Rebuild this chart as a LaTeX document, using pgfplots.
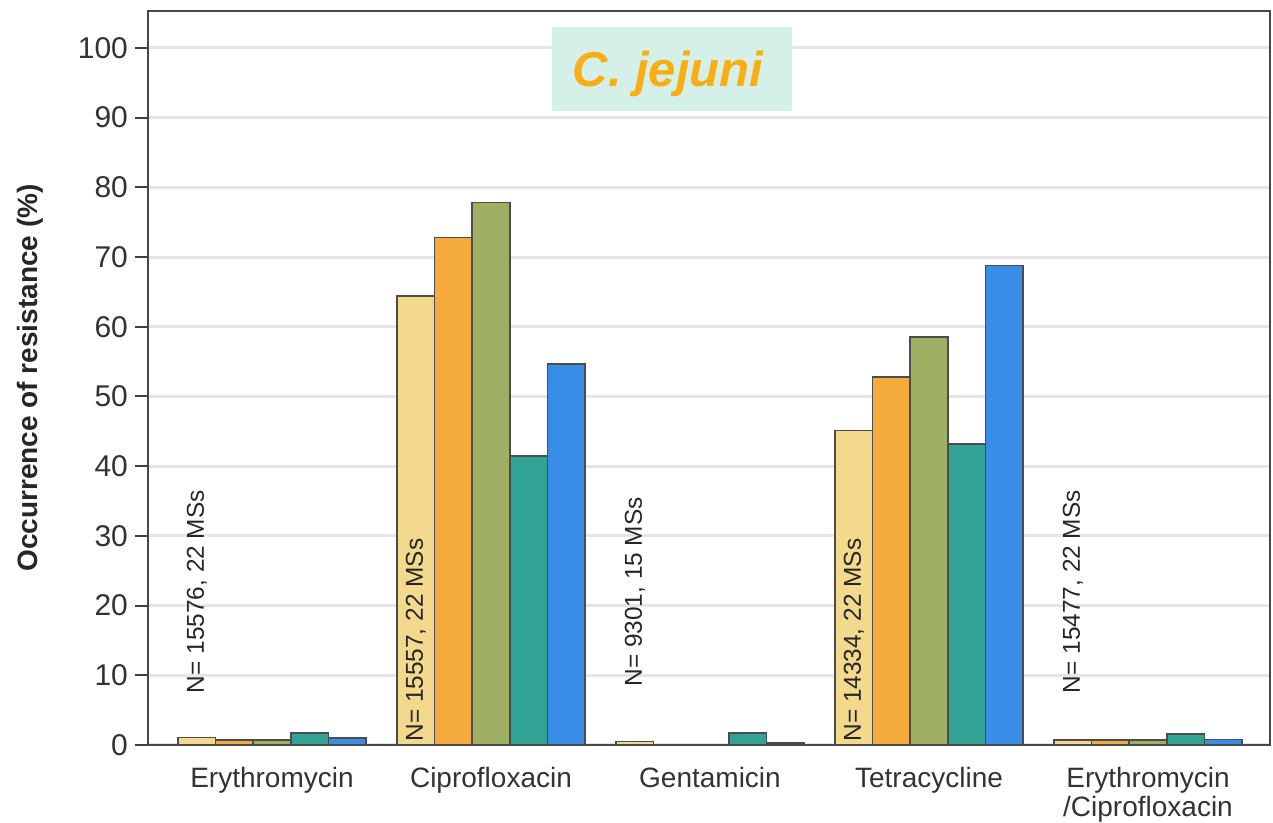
\documentclass[border=0pt]{standalone}
\usepackage{fontspec}
\setmainfont{Liberation Sans}
\usepackage{pgfplots}
\pgfplotsset{compat=1.18}

\definecolor{cyel}{HTML}{F3D98E}
\definecolor{cora}{HTML}{F5AA3C}
\definecolor{cgrn}{HTML}{9FB064}
\definecolor{ctea}{HTML}{31A394}
\definecolor{cblu}{HTML}{3A8DE6}
\definecolor{gridc}{HTML}{E6E6E6}
\definecolor{boxbg}{HTML}{D5F0E8}
\definecolor{titlec}{HTML}{FAAE12}

\tikzset{
  barsty/.style={draw=black!70, line width=0.8pt, fill=#1},
  nlab/.style={rotate=90, anchor=west, inner sep=0pt,
    font=\fontsize{12.2}{14}\selectfont, text=black!85},
}

\begin{document}
\begin{tikzpicture}[x=1pt,y=1pt]
\path[use as bounding box] (-74,-39) rectangle (562.5,372.5);
\begin{axis}[
  at={(0,0)}, anchor=south west,
  scale only axis, width=561pt, height=367pt,
  xmin=-0.566, xmax=4.557, ymin=0, ymax=105.3,
  ybar=0pt, bar width=18.8pt,
  xtick={0,1,2,3,4},
  xticklabels={Erythromycin,Ciprofloxacin,Gentamicin,Tetracycline,{Erythromycin\\/Ciprofloxacin}},
  xticklabel style={align=center, font=\fontsize{14}{14.8}\selectfont, text=black!80, yshift=-1pt},
  major x tick style={draw=none},
  ytick={0,10,...,100},
  ytick pos=left, tick align=outside, major tick length=6.5pt,
  major y tick style={black!75, line width=1pt},
  yticklabel style={font=\fontsize{15}{18}\selectfont, text=black!80},
  /pgf/number format/assume math mode=true,
  ymajorgrids, major grid style={gridc, line width=1.5pt},
  axis line style={black!72, line width=1pt},
  ylabel={Occurrence of resistance (\%)},
  ylabel style={at={(axis description cs:-0.1052,0.5)}, anchor=center,
    font=\bfseries\fontsize{14}{16}\selectfont, text=black!85},
]
% one series per colour, groups are the antibiotics 0..4
\addplot[barsty=cyel] coordinates {(0,1.1) (1,64.4) (2,0.5) (3,45.1) (4,0.7)};
\addplot[barsty=cora] coordinates {(0,0.7) (1,72.8) (2,0) (3,52.8) (4,0.7)};
\addplot[barsty=cgrn] coordinates {(0,0.7) (1,77.8) (2,0) (3,58.5) (4,0.7)};
\addplot[barsty=ctea] coordinates {(0,1.7) (1,41.5) (2,1.7) (3,43.2) (4,1.6)};
\addplot[barsty=cblu] coordinates {(0,1.0) (1,54.7) (2,0.3) (3,68.8) (4,0.8)};

\node[nlab] at (axis cs:-0.343,7.4) {N= 15576, 22 MSs};
\node[nlab] at (axis cs:0.657,0.45) {N= 15557, 22 MSs};
\node[nlab] at (axis cs:1.657,8.35) {N= 9301, 15 MSs};
\node[nlab] at (axis cs:2.657,0.45) {N= 14334, 22 MSs};
\node[nlab] at (axis cs:3.657,7.4) {N= 15477, 22 MSs};
\end{axis}
% species title box
\fill[boxbg] (202,317) rectangle (322,359);
\node[anchor=base, text=titlec, font=\bfseries\itshape\fontsize{24.5}{30}\selectfont] at (260,329) {C. jejuni};
\end{tikzpicture}
\end{document}
